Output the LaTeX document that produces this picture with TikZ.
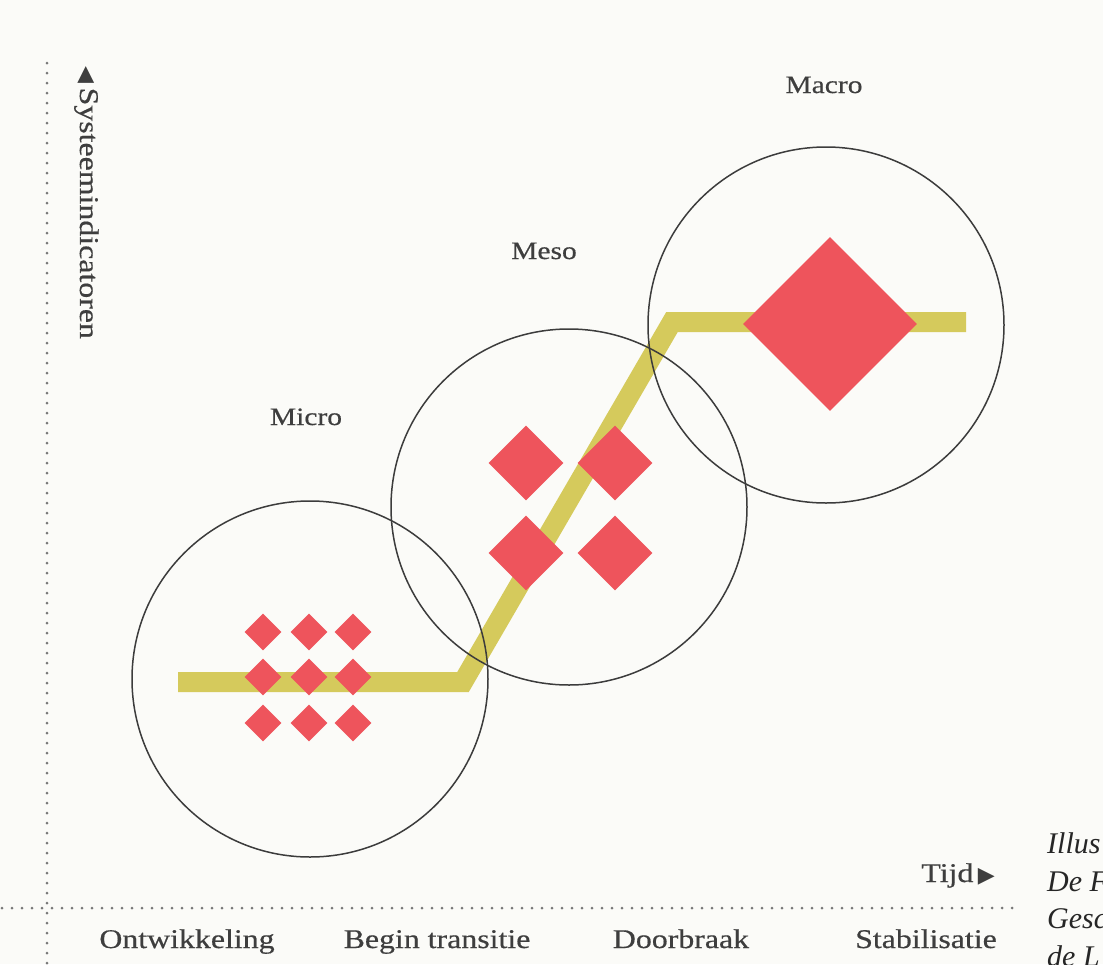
\documentclass[tikz,border=0pt]{standalone}
\usepackage{fontspec}
\newfontfamily\lblfont{Liberation Serif}[FakeStretch=1.18,FakeBold=0.5]
\newfontfamily\captfont{Liberation Serif}
\newfontfamily\symfont{DejaVu Sans}
\usetikzlibrary{shapes.geometric}
\definecolor{bgpaper}{RGB}{251,251,248}
\definecolor{gemred}{RGB}{238,84,92}
\definecolor{pathyellow}{RGB}{213,202,92}
\definecolor{inkgray}{RGB}{62,62,62}
\definecolor{ringgray}{RGB}{60,60,60}
\definecolor{dotgray}{RGB}{120,120,120}
\begin{document}
\begin{tikzpicture}[x=1pt,y=-1pt,
  lbl/.style={font=\lblfont\fontsize{27}{30}\selectfont, text=inkgray, inner sep=0pt},
  scalelbl/.style={font=\lblfont\fontsize{25}{28}\selectfont, text=inkgray, inner sep=0pt},
  captlbl/.style={font=\captfont\itshape\fontsize{30}{34}\selectfont, text=black!85, inner sep=0pt, anchor=base west},
  ring/.style={circle, draw=ringgray, line width=1.5pt, minimum size=356pt, inner sep=0pt},
  gem/.style={diamond, fill=gemred, inner sep=0pt, minimum size=#1},
  dotline/.style={dotgray, line width=3pt, line cap=round, dash pattern=on 0pt off 10pt},
  trend/.style={pathyellow, line width=20pt, line join=miter}
]
\useasboundingbox (0,0) rectangle (1103,964);
\fill[bgpaper] (0,0) rectangle (1103,964);
\clip (0,0) rectangle (1103,964);

% axes (dotted)
\coordinate (vtop) at (47,63);
\coordinate (vbot) at (47,966);
\coordinate (hl) at (2,908);
\coordinate (hr) at (1021,908);
\draw[dotline] (vtop) -- (vbot);
\draw[dotline] (hl) -- (hr);

% trend line
\coordinate (t0) at (178,682);
\coordinate (t1) at (463,682);
\coordinate (t2) at (672,322);
\coordinate (t3) at (966,322);
\draw[trend] (t0) -- (t1) -- (t2) -- (t3);

% circles
\node[ring] (micro) at (310,679) {};
\node[ring] (meso) at (569,507) {};
\node[ring] (macro) at (826,325) {};

% micro diamonds
\foreach \i/\x in {1/263,2/309,3/353}{
  \foreach \j/\y in {1/632,2/677,3/723}{
    \node[gem=37pt] (mi\i\j) at (\x,\y) {};
  }
}
% meso diamonds
\node[gem=75pt] (me11) at (526,463) {};
\node[gem=75pt] (me21) at (615,463) {};
\node[gem=75pt] (me12) at (526,553) {};
\node[gem=75pt] (me22) at (615,553) {};
% macro diamond
\node[gem=174pt] (ma) at (830,324) {};

% scale labels
\node[scalelbl, anchor=base] (lmicro) at (306,425) {Micro};
\node[scalelbl, anchor=base] (lmeso) at (544,259) {Meso};
\node[scalelbl, anchor=base] (lmacro) at (824,93) {Macro};

% axis labels
\node[lbl, rotate=-90, anchor=base west] (yaxis) at (80,66)
  {{\symfont\fontsize{22}{22}\selectfont ◀}\,Systeemindicatoren};
\node[lbl, anchor=base east] (xaxis) at (995,882)
  {Tijd\,{\symfont\fontsize{22}{22}\selectfont ▶}};

% phases
\node[lbl, anchor=base] (ph1) at (187,948) {Ontwikkeling};
\node[lbl, anchor=base] (ph2) at (437,948) {Begin transitie};
\node[lbl, anchor=base] (ph3) at (681,948) {Doorbraak};
\node[lbl, anchor=base] (ph4) at (926,948) {Stabilisatie};

% cut-off caption at the right edge
\node[captlbl] (c1) at (1047,853) {Illus};
\node[captlbl] (c2) at (1047,891) {De F};
\node[captlbl] (c3) at (1047,928) {Gesc};
\node[captlbl] (c4) at (1047,966) {de L};
\end{tikzpicture}
\end{document}
